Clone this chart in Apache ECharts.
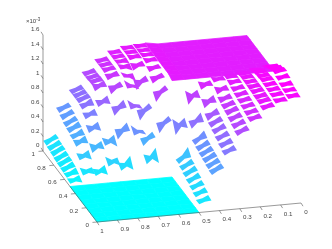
<!DOCTYPE html>
<html><head><meta charset="utf-8">
<style>html,body{margin:0;padding:0;background:#fff}#c{width:332px;height:249px}</style>
<script src="https://cdn.jsdelivr.net/npm/echarts@6/dist/echarts.min.js"></script>
</head><body><div id="c"></div>
<script>
const xTicks=[0,0.1,0.2,0.3,0.4,0.5,0.6,0.7,0.8,0.9,1];
const yTicks=[0,0.2,0.4,0.6,0.8,1];
const zTicks=[0,0.2,0.4,0.6,0.8,1,1.2,1.4,1.6];
const zMax=1.5;
// surface height (x 1e-3), rows y=j/16, columns x=i/16
const zGrid=[
[1.46,1.42,1.36,1.22,1.07,.81,.58,.15,0,0,0,0,0,0,0,0,0],
[1.48,1.44,1.38,1.24,1.1,.85,.6,.2,0,0,0,0,0,0,0,0,0],
[1.5,1.45,1.38,1.26,1.13,.89,.62,.24,0,0,0,0,0,0,0,0,0],
[1.54,1.46,1.39,1.28,1.16,.93,.64,.28,0,0,0,0,0,0,0,0,0],
[1.575,1.47,1.39,1.3,1.18,.97,.66,.32,0,0,0,0,0,0,0,0,0],
[1.55,1.46,1.39,1.32,1.2,1.0,.69,.35,0,0,0,0,0,0,0,0,0],
[1.51,1.45,1.39,1.34,1.25,1.1,.85,.38,0,0,0,0,0,0,0,0,0],
[1.45,1.42,1.38,1.35,1.33,1.27,1.12,.72,0,0,0,0,0,0,0,0,0],
[1.33,1.33,1.33,1.33,1.33,1.33,1.33,1.33,1.33,0,0,0,0,0,0,0,0],
[1.33,1.33,1.33,1.33,1.33,1.33,1.33,1.33,1.36,.7,.28,.7,.2,.3,.15,.18,.05],
[1.33,1.33,1.33,1.33,1.33,1.33,1.33,1.33,1.36,1.07,.44,.99,.6,.5,.44,.32,.06],
[1.33,1.33,1.33,1.33,1.33,1.33,1.33,1.33,1.36,1.22,.77,1.2,.85,.75,.63,.44,.07],
[1.33,1.33,1.33,1.33,1.33,1.33,1.33,1.33,1.36,1.3,1.13,1.25,1.08,.9,.74,.45,.08],
[1.33,1.33,1.33,1.33,1.33,1.33,1.33,1.33,1.36,1.35,1.3,1.3,1.18,1.06,.8,.48,.09],
[1.33,1.33,1.33,1.33,1.33,1.33,1.33,1.33,1.36,1.36,1.35,1.3,1.2,1.05,.81,.5,.11],
[1.33,1.33,1.33,1.33,1.33,1.33,1.33,1.33,1.36,1.36,1.35,1.3,1.2,1.04,.81,.54,.12],
[1.33,1.33,1.33,1.33,1.33,1.33,1.33,1.33,1.36,1.36,1.35,1.3,1.2,1.04,.81,.58,.14]
];
// cell kinds: L flat low, H flat high, B twisted cell, . none
const cellKinds=[
"BBBBBBBBLLLLLLLL",
"BBBBBBBBLLLLLLLL",
"BBBBBBBBLLLLLLLL",
"BBBBBBBBLLLLLLLL",
"BBBBBBBBLLLLLLLL",
"BBBBBBBBLLLLLLLL",
"BBBBBBBBLLLLLLLL",
"BBBBBBBBLLLLLLLL",
"HHHHHHHHBBBBBBBB",
"HHHHHHHHBBBBBBBB",
"HHHHHHHHBBBB.BBB",
"HHHHHHHHBBBBBBBB",
"HHHHHHHHBBBBBBBB",
"HHHHHHHHBBBBBBBB",
"HHHHHHHHBBBBBBBB",
"HHHHHHHHBBBBBBBB"];
const tilt=0.25, tiltCap=0.08, waist=0.38;

function project(x,y,z){return [97+204*(1-x)-54*y, 222-19*(1-x)-71*y-72.5*z];}
function cool(z){const t=Math.max(0,Math.min(1,z/zMax));return 'rgb('+Math.round(255*t)+','+Math.round(255*(1-t))+',255)';}

const faces=[];
const N=16, inset=0.02;
for(let j=N-1;j>=0;j--){for(let i=0;i<N;i++){
  const k=cellKinds[j][i]; if(k==='.')continue;
  const x0=i/N,x1=(i+1)/N,y0=j/N,y1=(j+1)/N;
  if(k==='B'){
    const ai=i<8?i:i+1, aj=i<8?j:j+1, anchor=zGrid[aj][ai];
    const Z=(p,q)=>anchor+Math.max(-tiltCap,Math.min(tiltCap,tilt*(zGrid[q][p]-anchor)));
    const a=Z(i,j),b=Z(i+1,j),c=Z(i+1,j+1),d=Z(i,j+1);
    const xa=x0+inset/N,xb=x1-inset/N,mx=(x0+x1)/2,my=(y0+y1)/2,mz=(a+b+c+d)/4,w=waist/N;
    faces.push({p:[[xa,y0,a],[mx,my-w,mz],[xb,y0,b],[xb,y1,c],[mx,my+w,mz],[xa,y1,d]],z:mz,s:0});
  } else {
    const Z=(p,q)=>k==='L'?0:zGrid[q][p];
    const a=Z(i,j),b=Z(i+1,j),c=Z(i+1,j+1),d=Z(i,j+1);
    faces.push({p:[[x0,y0,a],[x1,y0,b],[x1,y1,c],[x0,y1,d]],z:(a+b+c+d)/4,s:1});
  }
}}
const faceData=faces.map((f,idx)=>[idx]);

const axisLines=[[1,1,0,1,1,1.6],[1,1,0,1,0,0],[1,0,0,0,0,0]];
const segs=axisLines.map(l=>{const a=project(l[0],l[1],l[2]),b=project(l[3],l[4],l[5]);return [a,b];});
xTicks.forEach(v=>{const a=project(v,0,0);segs.push([a,[a[0]+2,a[1]+3.2]]);});
yTicks.forEach(v=>{const a=project(1,v,0);segs.push([a,[a[0]-4.5,a[1]+0.4]]);});
zTicks.forEach(v=>{const a=project(1,1,v);segs.push([a,[a[0]-2,a[1]-3.2]]);});

const labels=[];
xTicks.forEach(v=>{const a=project(v,0,0);labels.push([a[0]+3.2,a[1]+9,String(v),'left']);});
yTicks.forEach(v=>{const a=project(1,v,0);labels.push([a[0]-8,a[1]+3,String(v),'right']);});
zTicks.forEach(v=>{const a=project(1,1,v);labels.push([39.5,a[1]-5.5,String(v),'right']);});
const exponent='{a|×10}{b|-3}';
const expoPos=project(1,1,1.6);

const axisColor='#555';
const font='"Liberation Sans",Arial,sans-serif';
const chart=echarts.init(document.getElementById('c'),null,{renderer:'canvas'});
chart.setOption({
  animation:false,
  grid:{left:0,right:0,top:0,bottom:0},
  xAxis:{type:'value',min:0,max:332,show:false},
  yAxis:{type:'value',min:0,max:249,inverse:true,show:false},
  series:[
   {type:'custom',coordinateSystem:'cartesian2d',clip:false,silent:true,data:faceData,
    renderItem(params,api){
      const f=faces[api.value(0)];
      const pts=f.p.map(q=>api.coord(project(q[0],q[1],q[2])));
      const col=cool(f.z);
      return {type:'polygon',shape:{points:pts},style:{fill:col,stroke:f.s?col:null,lineWidth:f.s?0.8:0}};
    }},
   {type:'custom',coordinateSystem:'cartesian2d',clip:false,silent:true,data:segs.map((s,i)=>[i]),
    renderItem(params,api){
      const s=segs[api.value(0)];
      const a=api.coord(s[0]),b=api.coord(s[1]);
      return {type:'line',shape:{x1:a[0],y1:a[1],x2:b[0],y2:b[1]},style:{stroke:axisColor,lineWidth:0.6}};
    }},
   {type:'custom',coordinateSystem:'cartesian2d',clip:false,silent:true,data:labels.map((s,i)=>[i]),
    renderItem(params,api){
      const l=labels[api.value(0)];
      const a=api.coord([l[0],l[1]]);
      return {type:'text',x:a[0],y:a[1],style:{text:l[2],fill:'#444',font:'6.2px '+font,textAlign:l[3],textVerticalAlign:'middle'}};
    }},
   {type:'custom',coordinateSystem:'cartesian2d',clip:false,silent:true,data:[[0]],
    renderItem(params,api){
      const a=api.coord([expoPos[0]-17,expoPos[1]-13.5]);
      return {type:'text',x:a[0],y:a[1],style:{text:exponent,rich:{a:{font:'6px '+font,fill:'#444'},b:{font:'4.5px '+font,fill:'#444',verticalAlign:'top',padding:[0,0,3,0]}},textVerticalAlign:'middle'}};
    }}
  ]
});
</script></body></html>
